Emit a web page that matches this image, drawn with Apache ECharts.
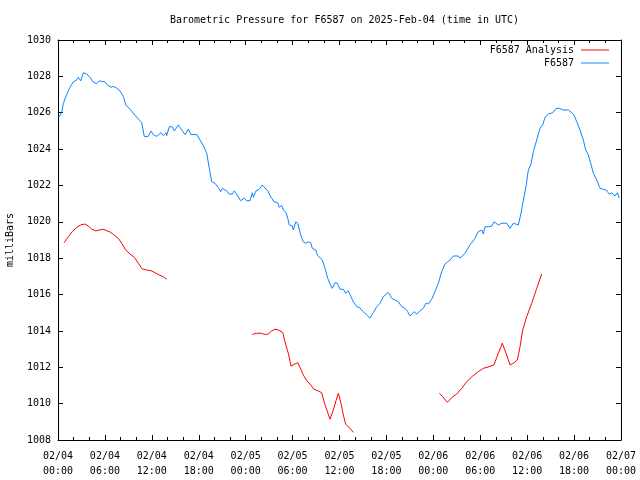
<!DOCTYPE html>
<html>
<head>
<meta charset="utf-8">
<script src="https://cdn.jsdelivr.net/npm/echarts@6/dist/echarts.min.js"></script>
<style>html,body{margin:0;padding:0;background:#fff}#c{width:640px;height:480px}</style>
</head>
<body>
<div id="c"></div>
<script>
// hours since 2025-02-04 00:00 UTC
var blueHours = [0.1,0.26,0.47,0.68,1.11,1.53,1.96,2.39,2.60,2.90,3.24,3.67,3.88,4.18,4.51,4.95,5.28,6.01,6.36,6.78,7.07,7.51,7.93,8.35,8.70,9.21,9.72,10.27,10.70,11.04,11.55,11.89,12.19,12.62,13.17,13.47,13.81,13.90,14.23,14.62,14.87,15.39,15.73,16.24,16.66,17.01,17.74,17.94,18.16,18.58,19.02,19.35,19.66,20.08,20.50,20.81,21.01,21.58,21.87,22.29,22.55,22.98,23.37,23.83,24.13,24.56,24.85,24.98,25.32,25.74,26.13,26.38,26.82,27.24,27.62,28.10,28.30,28.61,28.81,29.16,29.38,29.58,29.97,30.09,30.40,30.66,31.04,31.37,31.72,32.01,32.32,32.52,32.96,33.21,33.80,34.15,34.49,34.79,35.08,35.43,35.72,36.07,36.49,36.79,37.12,37.34,37.77,38.20,38.62,38.92,39.14,39.48,39.90,40.12,40.32,40.76,41.18,41.60,41.82,42.24,42.68,43.10,43.52,43.96,44.38,44.72,45.02,45.53,45.88,46.30,46.72,47.06,47.36,47.79,48.21,48.64,49.07,49.49,50.13,50.56,51.20,51.41,52.05,52.69,53.33,53.75,54.19,54.39,54.61,55.03,55.47,55.76,56.31,56.75,57.39,57.81,58.23,58.87,59.21,59.43,59.85,60.15,60.46,60.79,61.22,61.64,61.99,62.28,62.71,63.27,63.69,64.11,64.62,65.26,65.70,65.99,66.34,66.76,67.18,67.49,67.82,68.13,68.46,68.90,69.32,69.74,70.08,70.51,70.81,71.24,71.53,71.79];
var bluePressure = [1025.75,1025.82,1026.0,1026.5,1027.0,1027.4,1027.7,1027.8,1027.95,1027.75,1028.2,1028.13,1028.1,1027.9,1027.68,1027.6,1027.75,1027.7,1027.5,1027.4,1027.45,1027.35,1027.2,1026.9,1026.4,1026.2,1025.93,1025.66,1025.47,1024.68,1024.7,1025.0,1024.8,1024.7,1024.9,1024.74,1024.9,1024.74,1025.23,1025.23,1025.0,1025.33,1025.1,1024.8,1025.1,1024.8,1024.8,1024.9,1024.5,1024.2,1023.77,1022.94,1022.2,1022.12,1021.88,1021.66,1021.84,1021.7,1021.53,1021.53,1021.7,1021.42,1021.16,1021.3,1021.16,1021.16,1021.6,1021.35,1021.7,1021.79,1022.03,1021.97,1021.7,1021.35,1021.1,1021.06,1020.8,1020.9,1020.65,1020.52,1020.2,1019.83,1019.77,1019.55,1020.0,1019.92,1019.28,1018.9,1018.82,1018.9,1018.85,1018.54,1018.45,1018.14,1017.9,1017.44,1016.9,1016.58,1016.34,1016.65,1016.62,1016.29,1016.29,1016.07,1016.2,1016.1,1015.6,1015.33,1015.27,1015.1,1015.19,1014.88,1014.7,1014.7,1015.0,1015.33,1015.52,1015.88,1015.85,1016.12,1015.8,1015.7,1015.6,1015.33,1015.24,1015.06,1014.82,1015.06,1014.93,1015.1,1015.24,1015.52,1015.48,1015.74,1016.16,1016.62,1017.26,1017.68,1017.9,1018.12,1018.12,1018.0,1018.27,1018.73,1019.09,1019.46,1019.55,1019.33,1019.73,1019.73,1019.77,1020.0,1019.83,1019.92,1019.92,1019.64,1019.92,1019.83,1020.47,1021.0,1021.94,1022.85,1023.13,1023.86,1024.5,1025.14,1025.33,1025.75,1025.93,1026.0,1026.24,1026.24,1026.15,1026.15,1026.0,1025.88,1025.5,1025.05,1024.5,1023.95,1023.68,1023.22,1022.67,1022.3,1021.84,1021.79,1021.75,1021.53,1021.6,1021.42,1021.6,1021.3];

var analysisHours = [0.77,1.32,1.83,2.39,2.90,3.45,3.88,4.31,4.82,5.28,5.79,6.23,6.74,7.16,7.71,8.15,8.66,9.21,9.76,10.27,10.78,11.34,11.89,12.41,12.92,13.47,13.90,
  20.0,
  24.85,25.41,26.05,26.38,26.82,27.33,27.75,28.17,28.74,29.03,29.45,29.80,30.22,30.66,30.95,31.37,31.81,32.23,32.74,33.29,33.72,34.15,34.79,35.21,35.55,35.85,36.19,36.49,36.79,37.22,37.77,
  44.0,
  48.77,49.20,49.79,50.35,50.99,51.63,52.27,53.04,53.75,54.39,55.12,55.76,56.31,56.82,57.30,57.81,58.23,58.74,59.09,59.43,59.94,60.58,61.22,61.86];
var analysisPressure = [1018.85,1019.18,1019.46,1019.7,1019.83,1019.88,1019.77,1019.6,1019.5,1019.55,1019.59,1019.51,1019.42,1019.28,1019.09,1018.82,1018.45,1018.23,1018.05,1017.72,1017.4,1017.35,1017.31,1017.2,1017.08,1016.98,1016.84,
  null,
  1013.81,1013.87,1013.87,1013.81,1013.81,1014.0,1014.1,1014.05,1013.92,1013.4,1012.77,1012.07,1012.16,1012.25,1012.0,1011.58,1011.26,1011.08,1010.79,1010.7,1010.6,1009.93,1009.14,1009.65,1010.16,1010.57,1010.02,1009.38,1008.86,1008.7,1008.42,
  null,
  1010.57,1010.38,1010.07,1010.33,1010.53,1010.84,1011.21,1011.52,1011.76,1011.94,1012.03,1012.13,1012.77,1013.32,1012.77,1012.13,1012.22,1012.4,1013.13,1014.05,1014.78,1015.52,1016.34,1017.13];

var xTickLabels = ['02/04\n00:00','02/04\n06:00','02/04\n12:00','02/04\n18:00','02/05\n00:00','02/05\n06:00','02/05\n12:00','02/05\n18:00','02/06\n00:00','02/06\n06:00','02/06\n12:00','02/06\n18:00','02/07\n00:00'];

var titleText = 'Barometric Pressure for F6587 on 2025-Feb-04 (time in UTC)';
var yName = 'milliBars';
var seriesNames = ['F6587 Analysis', 'F6587'];

function pairs(t, v) { return t.map(function (x, i) { return [x, v[i] === null ? '-' : v[i]]; }); }

var FONT = 'DejaVu Sans Mono';
var chart = echarts.init(document.getElementById('c'), null, {renderer: 'canvas'});
var tickCommon = {show: true, inside: true, length: 5, lineStyle: {color: '#000', width: 1}};
var minorCommon = {show: true, splitNumber: 3, length: 3, lineStyle: {color: '#000', width: 1}};
chart.setOption({
  animation: false,
  backgroundColor: '#fff',
  textStyle: {fontFamily: FONT},
  title: {
    text: titleText, left: 339.5, top: 10, textAlign: 'center',
    textStyle: {fontFamily: FONT, fontSize: 10, fontWeight: 'normal', color: '#000'}
  },
  legend: {
    right: 26, top: 40, orient: 'vertical', align: 'right',
    icon: 'rect', itemWidth: 28, itemHeight: 1, itemGap: 3,
    textStyle: {fontFamily: FONT, fontSize: 10, color: '#000', padding: [0, 2, 0, 0]},
    data: seriesNames
  },
  grid: {left: 58, right: 19, top: 40, bottom: 40, containLabel: false, outerBoundsMode: 'none'},
  xAxis: [{
    type: 'value', min: 0, max: 72, interval: 6, position: 'bottom',
    axisLine: {lineStyle: {color: '#000', width: 1}},
    axisTick: tickCommon, minorTick: minorCommon,
    splitLine: {show: false},
    axisLabel: {
      color: '#000', fontFamily: FONT, fontSize: 10, lineHeight: 15, margin: 9,
      formatter: function (v) { return xTickLabels[Math.round(v / 6)]; }
    }
  }, {
    type: 'value', min: 0, max: 72, interval: 6, position: 'top',
    axisLine: {show: true, onZero: false, lineStyle: {color: '#000', width: 1}},
    axisTick: tickCommon, minorTick: minorCommon,
    splitLine: {show: false}, axisLabel: {show: false}
  }],
  yAxis: [{
    type: 'value', min: 1008, max: 1030, interval: 2, position: 'left',
    name: yName, nameLocation: 'middle', nameRotate: 90, nameGap: 43,
    nameTextStyle: {fontFamily: FONT, fontSize: 10, color: '#000'},
    axisLine: {show: true, lineStyle: {color: '#000', width: 1}},
    axisTick: tickCommon,
    splitLine: {show: false},
    axisLabel: {color: '#000', fontFamily: FONT, fontSize: 10, margin: 7,
      formatter: function (v) { return String(v); }}
  }, {
    type: 'value', min: 1008, max: 1030, interval: 2, position: 'right',
    axisLine: {show: true, onZero: false, lineStyle: {color: '#000', width: 1}},
    axisTick: tickCommon,
    splitLine: {show: false}, axisLabel: {show: false}
  }],
  series: [{
    name: seriesNames[0], type: 'line', symbol: 'none', connectNulls: false,
    lineStyle: {color: '#ff0000', width: 1}, itemStyle: {color: '#ff0000'},
    data: pairs(analysisHours, analysisPressure), z: 3
  }, {
    name: seriesNames[1], type: 'line', symbol: 'none',
    lineStyle: {color: '#0a84ff', width: 1}, itemStyle: {color: '#0a84ff'},
    data: pairs(blueHours, bluePressure), z: 2
  }]
});
</script>
</body>
</html>
